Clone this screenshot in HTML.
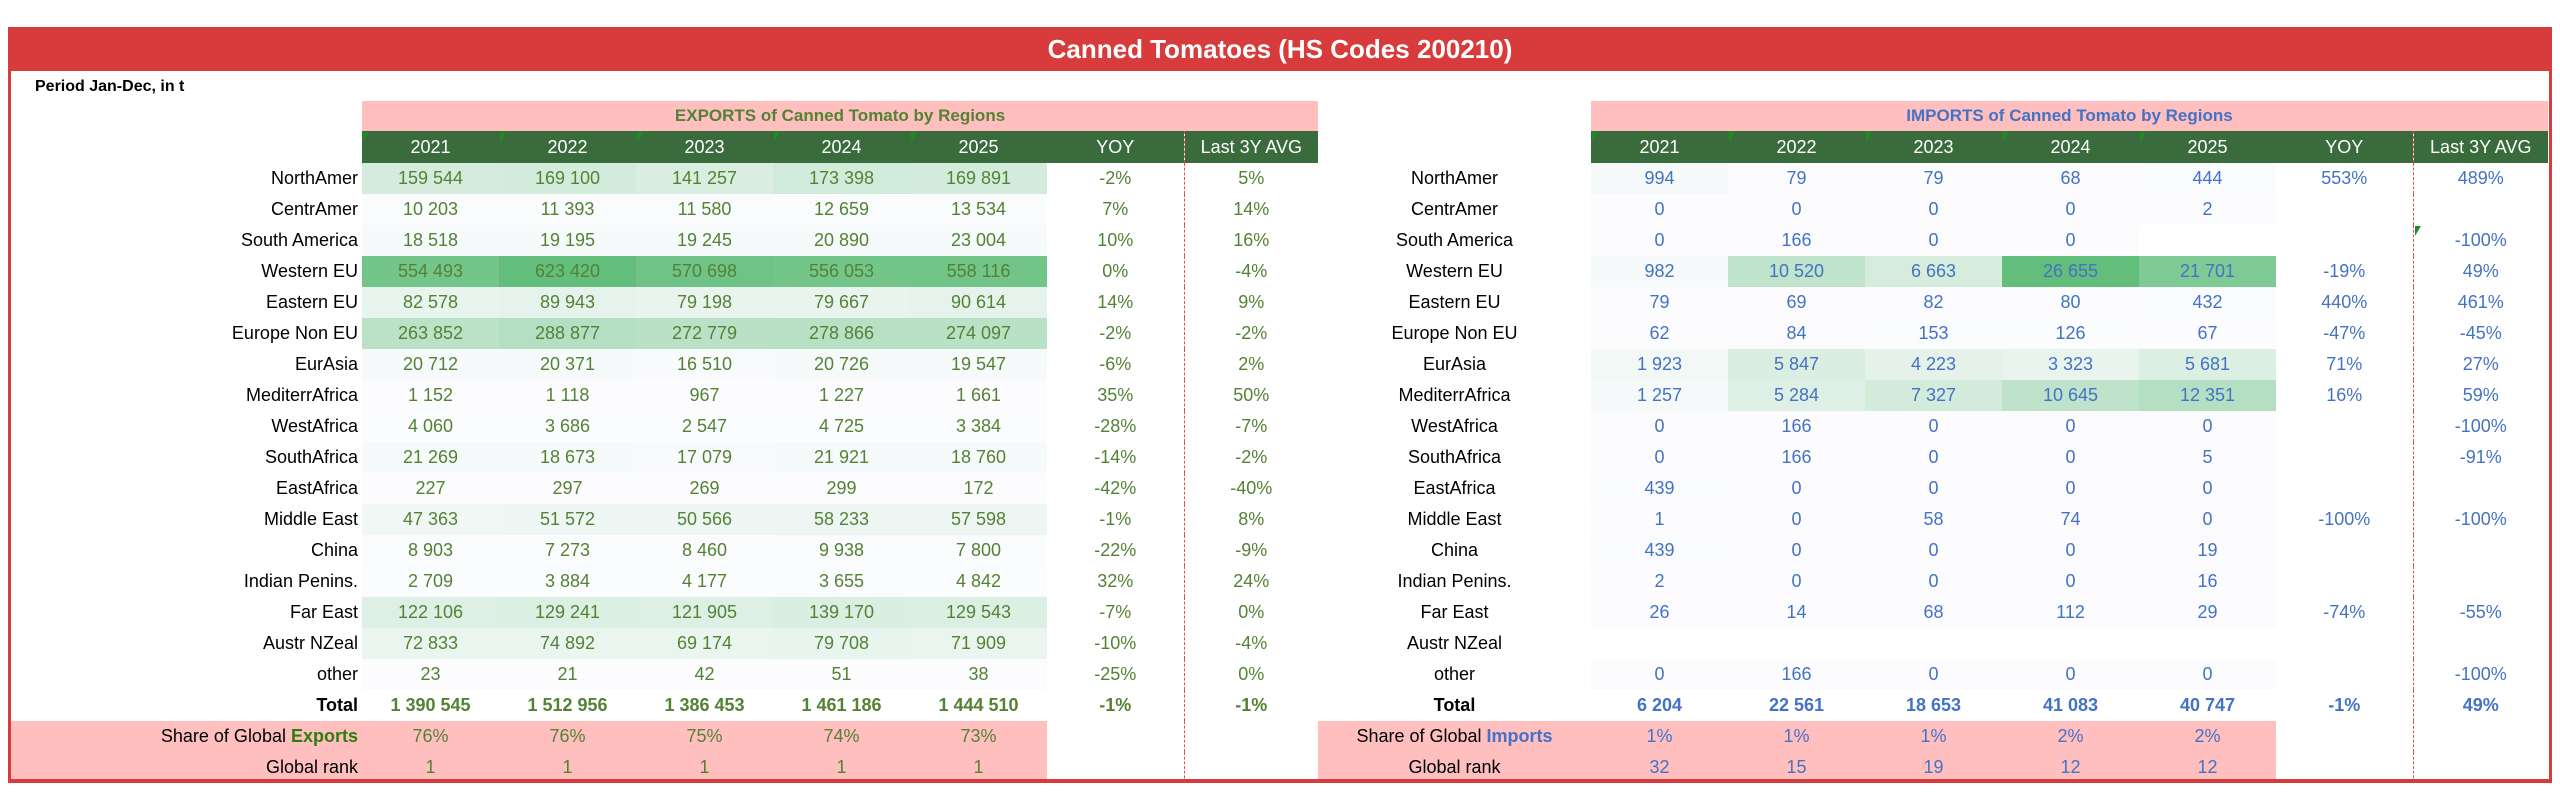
<!DOCTYPE html>
<html><head><meta charset="utf-8"><style>
body{margin:0;width:2560px;height:797px;background:#fff;position:relative;overflow:hidden;font-family:"Liberation Sans",sans-serif}
.box{position:absolute;left:8px;top:27px;width:2538px;height:752px;border-left:3px solid #D83B3B;border-right:3px solid #D83B3B;border-bottom:4px solid #D83B3B;z-index:5}
.title{position:absolute;left:8px;top:27px;width:2544px;height:44px;background:#D83B3B;color:#fff;font-weight:bold;font-size:26px;text-align:center;line-height:44px;z-index:6}
.period{position:absolute;left:35px;top:78px;font-weight:bold;font-size:16px}
table{position:absolute;border-collapse:collapse;table-layout:fixed}
td{padding:0;height:31px;text-align:center;font-size:18px;white-space:nowrap;position:relative}
tr.pt td{height:30px}
tr.hd td{height:32px}
.pk{background:#FFBFBF}
.hd td.y{background:#3A6B3D;color:#fff}
.e td{color:#548235}
.i td{color:#4472C4}
td.l{color:#000!important;text-align:right;padding-right:4px}
.i td.l{text-align:center;padding-right:0}
td.d{border-left:1px dashed #E05050}
.tot td{font-weight:bold}
.tri::before{content:"";position:absolute;left:1px;top:1px;border-top:10px solid #1E8C1E;border-right:6px solid transparent;z-index:2}
.ttl{font-weight:bold;font-size:17px}
</style></head><body>
<div class="title">Canned Tomatoes (HS Codes 200210)</div>
<div class="box"></div>
<div class="period">Period Jan-Dec, in t</div>

<table class="e" style="left:11px;top:101px;width:1307px">
<colgroup><col style="width:351px"><col style="width:137px"><col style="width:137px"><col style="width:137px"><col style="width:137px"><col style="width:137px"><col style="width:137px"><col style="width:134px"></colgroup>
<tr class="pt"><td></td><td colspan="7" class="pk ttl" style="color:#548235">EXPORTS of Canned Tomato by Regions</td></tr>
<tr class="hd"><td></td><td class="y tri">2021</td><td class="y tri">2022</td><td class="y tri">2023</td><td class="y tri">2024</td><td class="y tri">2025</td><td class="y">YOY</td><td class="y d">Last 3Y AVG</td></tr>
<tr><td class="l">NorthAmer</td><td style="background:rgb(213,236,221)">159 544</td><td style="background:rgb(211,235,219)">169 100</td><td style="background:rgb(217,238,225)">141 257</td><td style="background:rgb(209,235,218)">173 398</td><td style="background:rgb(210,235,219)">169 891</td><td>-2%</td><td class="d">5%</td></tr>
<tr><td class="l">CentrAmer</td><td style="background:rgb(249,251,252)">10 203</td><td style="background:rgb(249,251,252)">11 393</td><td style="background:rgb(249,251,252)">11 580</td><td style="background:rgb(249,251,252)">12 659</td><td style="background:rgb(249,251,252)">13 534</td><td>7%</td><td class="d">14%</td></tr>
<tr><td class="l">South America</td><td style="background:rgb(247,250,251)">18 518</td><td style="background:rgb(247,250,251)">19 195</td><td style="background:rgb(247,250,251)">19 245</td><td style="background:rgb(247,250,251)">20 890</td><td style="background:rgb(246,250,250)">23 004</td><td>10%</td><td class="d">16%</td></tr>
<tr><td class="l">Western EU</td><td style="background:rgb(116,197,138)">554 493</td><td style="background:rgb(99,190,123)">623 420</td><td style="background:rgb(112,195,135)">570 698</td><td style="background:rgb(116,197,138)">556 053</td><td style="background:rgb(115,196,137)">558 116</td><td>0%</td><td class="d">-4%</td></tr>
<tr><td class="l">Eastern EU</td><td style="background:rgb(232,244,238)">82 578</td><td style="background:rgb(230,243,236)">89 943</td><td style="background:rgb(233,244,239)">79 198</td><td style="background:rgb(233,244,239)">79 667</td><td style="background:rgb(230,243,236)">90 614</td><td>14%</td><td class="d">9%</td></tr>
<tr><td class="l">Europe Non EU</td><td style="background:rgb(187,226,199)">263 852</td><td style="background:rgb(181,223,194)">288 877</td><td style="background:rgb(185,225,197)">272 779</td><td style="background:rgb(184,224,196)">278 866</td><td style="background:rgb(185,225,197)">274 097</td><td>-2%</td><td class="d">-2%</td></tr>
<tr><td class="l">EurAsia</td><td style="background:rgb(247,250,251)">20 712</td><td style="background:rgb(247,250,251)">20 371</td><td style="background:rgb(248,250,252)">16 510</td><td style="background:rgb(247,250,251)">20 726</td><td style="background:rgb(247,250,251)">19 547</td><td>-6%</td><td class="d">2%</td></tr>
<tr><td class="l">MediterrAfrica</td><td style="background:rgb(252,252,255)">1 152</td><td style="background:rgb(252,252,255)">1 118</td><td style="background:rgb(252,252,255)">967</td><td style="background:rgb(252,252,255)">1 227</td><td style="background:rgb(252,252,255)">1 661</td><td>35%</td><td class="d">50%</td></tr>
<tr><td class="l">WestAfrica</td><td style="background:rgb(251,252,254)">4 060</td><td style="background:rgb(251,252,254)">3 686</td><td style="background:rgb(251,252,254)">2 547</td><td style="background:rgb(251,252,254)">4 725</td><td style="background:rgb(251,252,254)">3 384</td><td>-28%</td><td class="d">-7%</td></tr>
<tr><td class="l">SouthAfrica</td><td style="background:rgb(247,250,251)">21 269</td><td style="background:rgb(247,250,251)">18 673</td><td style="background:rgb(248,250,252)">17 079</td><td style="background:rgb(247,250,251)">21 921</td><td style="background:rgb(247,250,251)">18 760</td><td>-14%</td><td class="d">-2%</td></tr>
<tr><td class="l">EastAfrica</td><td style="background:rgb(252,252,255)">227</td><td style="background:rgb(252,252,255)">297</td><td style="background:rgb(252,252,255)">269</td><td style="background:rgb(252,252,255)">299</td><td style="background:rgb(252,252,255)">172</td><td>-42%</td><td class="d">-40%</td></tr>
<tr><td class="l">Middle East</td><td style="background:rgb(240,247,245)">47 363</td><td style="background:rgb(239,247,244)">51 572</td><td style="background:rgb(239,247,244)">50 566</td><td style="background:rgb(238,246,243)">58 233</td><td style="background:rgb(238,246,243)">57 598</td><td>-1%</td><td class="d">8%</td></tr>
<tr><td class="l">China</td><td style="background:rgb(250,251,253)">8 903</td><td style="background:rgb(250,251,253)">7 273</td><td style="background:rgb(250,251,253)">8 460</td><td style="background:rgb(250,251,253)">9 938</td><td style="background:rgb(250,251,253)">7 800</td><td>-22%</td><td class="d">-9%</td></tr>
<tr><td class="l">Indian Penins.</td><td style="background:rgb(251,252,254)">2 709</td><td style="background:rgb(251,252,254)">3 884</td><td style="background:rgb(251,252,254)">4 177</td><td style="background:rgb(251,252,254)">3 655</td><td style="background:rgb(251,252,254)">4 842</td><td>32%</td><td class="d">24%</td></tr>
<tr><td class="l">Far East</td><td style="background:rgb(222,240,229)">122 106</td><td style="background:rgb(220,239,227)">129 241</td><td style="background:rgb(222,240,229)">121 905</td><td style="background:rgb(218,238,226)">139 170</td><td style="background:rgb(220,239,227)">129 543</td><td>-7%</td><td class="d">0%</td></tr>
<tr><td class="l">Austr NZeal</td><td style="background:rgb(234,245,240)">72 833</td><td style="background:rgb(234,245,239)">74 892</td><td style="background:rgb(235,245,240)">69 174</td><td style="background:rgb(232,244,238)">79 708</td><td style="background:rgb(234,245,240)">71 909</td><td>-10%</td><td class="d">-4%</td></tr>
<tr><td class="l">other</td><td style="background:rgb(252,252,255)">23</td><td style="background:rgb(252,252,255)">21</td><td style="background:rgb(252,252,255)">42</td><td style="background:rgb(252,252,255)">51</td><td style="background:rgb(252,252,255)">38</td><td>-25%</td><td class="d">0%</td></tr>
<tr class="tot"><td class="l">Total</td><td>1 390 545</td><td>1 512 956</td><td>1 386 453</td><td>1 461 186</td><td>1 444 510</td><td>-1%</td><td class="d">-1%</td></tr>
<tr><td class="l pk">Share of Global <b style="color:#2E7D0E">Exports</b></td><td class="pk">76%</td><td class="pk">76%</td><td class="pk">75%</td><td class="pk">74%</td><td class="pk">73%</td><td></td><td class="d"></td></tr>
<tr><td class="l pk">Global rank</td><td class="pk">1</td><td class="pk">1</td><td class="pk">1</td><td class="pk">1</td><td class="pk">1</td><td></td><td class="d"></td></tr>
</table>

<table class="i" style="left:1318px;top:101px;width:1230px">
<colgroup><col style="width:273px"><col style="width:137px"><col style="width:137px"><col style="width:137px"><col style="width:137px"><col style="width:137px"><col style="width:137px"><col style="width:135px"></colgroup>
<tr class="pt"><td></td><td colspan="7" class="pk ttl" style="color:#4472C4">IMPORTS of Canned Tomato by Regions</td></tr>
<tr class="hd"><td></td><td class="y tri">2021</td><td class="y tri">2022</td><td class="y tri">2023</td><td class="y tri">2024</td><td class="y tri">2025</td><td class="y">YOY</td><td class="y d">Last 3Y AVG</td></tr>
<tr><td class="l">NorthAmer</td><td style="background:rgb(246,250,250)">994</td><td style="background:#FCFCFF">79</td><td style="background:#FCFCFF">79</td><td style="background:#FCFCFF">68</td><td style="background:rgb(249,251,253)">444</td><td>553%</td><td class="d">489%</td></tr>
<tr><td class="l">CentrAmer</td><td style="background:#FCFCFF">0</td><td style="background:#FCFCFF">0</td><td style="background:#FCFCFF">0</td><td style="background:#FCFCFF">0</td><td style="background:#FCFCFF">2</td><td></td><td class="d"></td></tr>
<tr><td class="l">South America</td><td style="background:#FCFCFF">0</td><td style="background:#FCFCFF">166</td><td style="background:#FCFCFF">0</td><td style="background:#FCFCFF">0</td><td></td><td></td><td class="d tri">-100%</td></tr>
<tr><td class="l">Western EU</td><td style="background:rgb(246,250,250)">982</td><td style="background:rgb(192,228,203)">10 520</td><td style="background:rgb(214,237,222)">6 663</td><td style="background:rgb(99,190,123)">26 655</td><td style="background:rgb(127,202,148)">21 701</td><td>-19%</td><td class="d">49%</td></tr>
<tr><td class="l">Eastern EU</td><td style="background:#FCFCFF">79</td><td style="background:#FCFCFF">69</td><td style="background:#FCFCFF">82</td><td style="background:#FCFCFF">80</td><td style="background:rgb(249,251,253)">432</td><td>440%</td><td class="d">461%</td></tr>
<tr><td class="l">Europe Non EU</td><td style="background:#FCFCFF">62</td><td style="background:#FCFCFF">84</td><td style="background:rgb(251,252,254)">153</td><td style="background:rgb(251,252,254)">126</td><td style="background:#FCFCFF">67</td><td>-47%</td><td class="d">-45%</td></tr>
<tr><td class="l">EurAsia</td><td style="background:rgb(241,248,246)">1 923</td><td style="background:rgb(218,238,226)">5 847</td><td style="background:rgb(228,242,234)">4 223</td><td style="background:rgb(233,244,239)">3 323</td><td style="background:rgb(219,239,227)">5 681</td><td>71%</td><td class="d">27%</td></tr>
<tr><td class="l">MediterrAfrica</td><td style="background:rgb(245,249,249)">1 257</td><td style="background:rgb(222,240,229)">5 284</td><td style="background:rgb(210,235,219)">7 327</td><td style="background:rgb(191,227,202)">10 645</td><td style="background:rgb(181,223,194)">12 351</td><td>16%</td><td class="d">59%</td></tr>
<tr><td class="l">WestAfrica</td><td style="background:#FCFCFF">0</td><td style="background:#FCFCFF">166</td><td style="background:#FCFCFF">0</td><td style="background:#FCFCFF">0</td><td style="background:#FCFCFF">0</td><td></td><td class="d">-100%</td></tr>
<tr><td class="l">SouthAfrica</td><td style="background:#FCFCFF">0</td><td style="background:#FCFCFF">166</td><td style="background:#FCFCFF">0</td><td style="background:#FCFCFF">0</td><td style="background:#FCFCFF">5</td><td></td><td class="d">-91%</td></tr>
<tr><td class="l">EastAfrica</td><td style="background:rgb(249,251,253)">439</td><td style="background:#FCFCFF">0</td><td style="background:#FCFCFF">0</td><td style="background:#FCFCFF">0</td><td style="background:#FCFCFF">0</td><td></td><td class="d"></td></tr>
<tr><td class="l">Middle East</td><td style="background:#FCFCFF">1</td><td style="background:#FCFCFF">0</td><td style="background:#FCFCFF">58</td><td style="background:#FCFCFF">74</td><td style="background:#FCFCFF">0</td><td>-100%</td><td class="d">-100%</td></tr>
<tr><td class="l">China</td><td style="background:rgb(249,251,253)">439</td><td style="background:#FCFCFF">0</td><td style="background:#FCFCFF">0</td><td style="background:#FCFCFF">0</td><td style="background:#FCFCFF">19</td><td></td><td class="d"></td></tr>
<tr><td class="l">Indian Penins.</td><td style="background:#FCFCFF">2</td><td style="background:#FCFCFF">0</td><td style="background:#FCFCFF">0</td><td style="background:#FCFCFF">0</td><td style="background:#FCFCFF">16</td><td></td><td class="d"></td></tr>
<tr><td class="l">Far East</td><td style="background:#FCFCFF">26</td><td style="background:#FCFCFF">14</td><td style="background:#FCFCFF">68</td><td style="background:#FCFCFF">112</td><td style="background:#FCFCFF">29</td><td>-74%</td><td class="d">-55%</td></tr>
<tr><td class="l">Austr NZeal</td><td></td><td></td><td></td><td></td><td></td><td></td><td class="d"></td></tr>
<tr><td class="l">other</td><td style="background:#FCFCFF">0</td><td style="background:#FCFCFF">166</td><td style="background:#FCFCFF">0</td><td style="background:#FCFCFF">0</td><td style="background:#FCFCFF">0</td><td></td><td class="d">-100%</td></tr>
<tr class="tot"><td class="l">Total</td><td>6 204</td><td>22 561</td><td>18 653</td><td>41 083</td><td>40 747</td><td>-1%</td><td class="d">49%</td></tr>
<tr><td class="l pk">Share of Global <b style="color:#4472C4">Imports</b></td><td class="pk">1%</td><td class="pk">1%</td><td class="pk">1%</td><td class="pk">2%</td><td class="pk">2%</td><td></td><td class="d"></td></tr>
<tr><td class="l pk">Global rank</td><td class="pk">32</td><td class="pk">15</td><td class="pk">19</td><td class="pk">12</td><td class="pk">12</td><td></td><td class="d"></td></tr>
</table>
</body></html>
